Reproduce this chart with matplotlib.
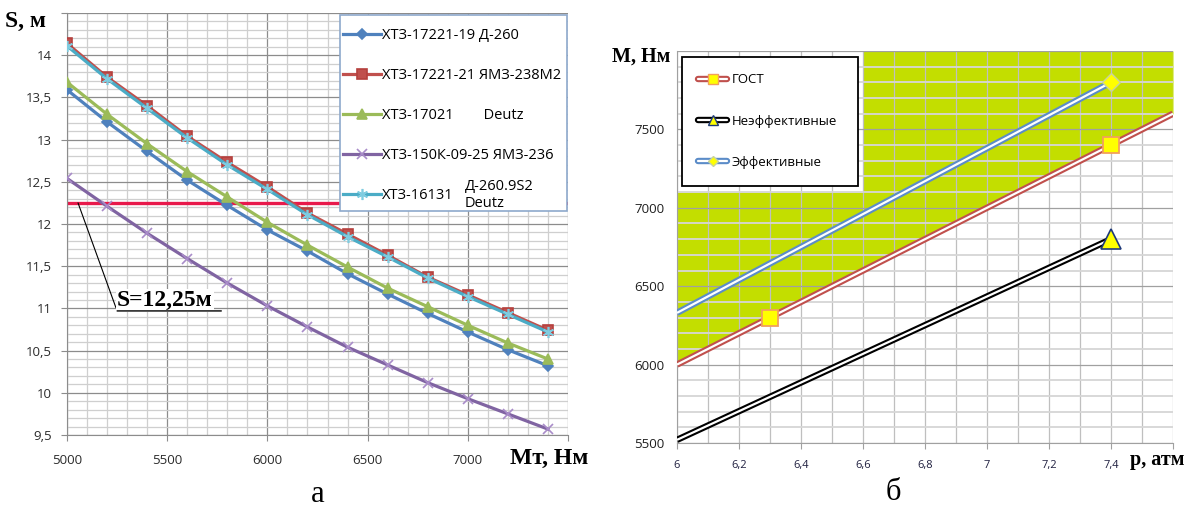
import matplotlib.pyplot as plt
import numpy as np
from matplotlib.legend_handler import HandlerTuple
from matplotlib.lines import Line2D
from matplotlib.patches import Rectangle
from matplotlib.ticker import MultipleLocator, FuncFormatter

plt.rcParams['font.family'] = ['Open Sans', 'DejaVu Sans']
SERIF = 'Liberation Serif'

# ---- chart a: braking distance vs torque ----
mt = [5000, 5200, 5400, 5600, 5800, 6000, 6200, 6400, 6600, 6800, 7000, 7200, 7400]
s_17221_19 = [13.59, 13.21, 12.86, 12.52, 12.22, 11.93, 11.68, 11.41, 11.17, 10.94, 10.72, 10.51, 10.32]
s_17221_21 = [14.14, 13.74, 13.40, 13.04, 12.73, 12.44, 12.13, 11.88, 11.63, 11.37, 11.16, 10.95, 10.74]
s_17021 = [13.68, 13.30, 12.95, 12.62, 12.32, 12.02, 11.75, 11.49, 11.24, 11.02, 10.80, 10.59, 10.40]
s_150k = [12.54, 12.21, 11.89, 11.59, 11.30, 11.03, 10.78, 10.54, 10.33, 10.12, 9.93, 9.75, 9.57]
s_16131 = [14.11, 13.72, 13.37, 13.02, 12.70, 12.41, 12.11, 11.85, 11.61, 11.36, 11.14, 10.93, 10.72]
s_limit = 12.25

labels_a = ["ХТЗ-17221-19 Д-260", "ХТЗ-17221-21 ЯМЗ-238М2", "ХТЗ-17021        Deutz",
            "ХТЗ-150К-09-25 ЯМЗ-236", "ХТЗ-16131"]

# ---- chart b: torque vs pressure ----
gost_p = [6.0, 6.3, 7.4, 7.6]
gost_m = [6000, 6300, 7400, 7600]
ineff_p = [6.0, 7.4]
ineff_m = [5520, 6800]
eff_p = [6.0, 7.4]
eff_m = [6330, 7800]
zone_p = [6.0, 6.6, 6.6, 7.6]
zone_top = [7100, 7100, 8000, 8000]


def comma(v, pos):
    return f"{v:g}".replace('.', ',')


fig = plt.figure(figsize=(11.92, 5.12), dpi=100)
W, H = 1192, 512

# ================= chart a =================
ax1 = fig.add_axes([67 / W, 1 - 435 / H, 501 / W, 422 / H])
ax1.set_xlim(5000, 7500)
ax1.set_ylim(9.5, 14.5)
ax1.xaxis.set_major_locator(MultipleLocator(500))
ax1.xaxis.set_minor_locator(MultipleLocator(100))
ax1.yaxis.set_major_locator(MultipleLocator(0.5))
ax1.yaxis.set_minor_locator(MultipleLocator(0.1))
ax1.set_axisbelow(True)
ax1.grid(which='major', color='#8C8C8C', lw=0.9)
ax1.grid(which='minor', color='#CFCFCF', lw=0.9)
for sp in ['top', 'right']:
    ax1.spines[sp].set_visible(False)
for sp in ['left', 'bottom']:
    ax1.spines[sp].set_color('#8C8C8C')
ax1.tick_params(which='major', length=4, color='#8C8C8C', labelsize=9.5,
                labelcolor='#2B2B2B')
ax1.tick_params(which='minor', length=0)
ax1.tick_params(axis='x', pad=10)
ax1.tick_params(axis='y', pad=7)
ax1.xaxis.set_major_formatter(FuncFormatter(lambda v, p: '' if v >= 7500 else f"{v:g}"))
ax1.yaxis.set_major_formatter(FuncFormatter(lambda v, p: '' if v >= 14.5 else comma(v, p)))

ax1.axhline(s_limit, color='#E8194B', lw=2.4, zorder=2)

styles = [
    (s_17221_19, '#4F81BD', 'D', 5.5, '#4F81BD'),
    (s_17221_21, '#C0504D', 's', 7, '#B5403D'),
    (s_17021, '#9BBB59', '^', 7.5, '#9BBB59'),
    (s_150k, '#8064A2', 'x', 6.5, '#A98CC9'),
    (s_16131, '#4BACC6', (6, 2, 0), 8, '#7FCCE0'),
]
handles_a = []
for (vals, col, mk, ms, mec), lab in zip(styles, labels_a):
    ln, = ax1.plot(mt, vals, color=col, lw=2.3, marker=mk, ms=ms, mfc=col,
                   mec=mec, mew=1.2, zorder=3, label=lab)
    handles_a.append(ln)

# annotation for the limit
ax1.annotate("S=12,25м", xy=(5055, s_limit), xytext=(5250, 10.97),
             fontfamily=SERIF, fontweight='bold', fontsize=17, va='bottom', ha='left',
             bbox=dict(boxstyle='square,pad=0.05', fc='white', ec='none'),
             arrowprops=dict(arrowstyle='-', lw=0.8, color='black', relpos=(0, 0),
                             shrinkA=0, shrinkB=0), zorder=6)
ax1.annotate('', xy=(5770, 10.97), xytext=(5250, 10.97),
             arrowprops=dict(arrowstyle='-', lw=1.0, color='black', shrinkA=0, shrinkB=0),
             zorder=6)

# legend box
ax1.add_patch(Rectangle((0.545, 0.5308), 0.453, 0.4645, transform=ax1.transAxes,
                        fc='white', ec='#8EA9CC', lw=1.2, zorder=4))
ax1.legend(handles=handles_a, loc='upper left', bbox_to_anchor=(0.545, 0.972),
           borderaxespad=0, borderpad=0.2, frameon=False, fontsize=10.5,
           labelspacing=1.72, handlelength=2.6, handletextpad=0.1)
fig.text(465 / W, 1 - 195 / H, "Д-260.9S2\nDeutz", fontsize=10.5, va='center',
         ha='left', linespacing=1.2, zorder=10)

fig.text(5 / W, 1 - 21 / H, "S, м", fontfamily=SERIF, fontweight='bold', fontsize=17,
         va='center', ha='left')
fig.text(510 / W, 1 - 458 / H, "Мт, Нм", fontfamily=SERIF, fontweight='bold', fontsize=17,
         va='center', ha='left')
fig.text(318 / W, 1 - 494 / H, "а", fontfamily=SERIF, fontsize=22, va='center', ha='center')

# ================= chart b =================
ax2 = fig.add_axes([677 / W, 1 - 443 / H, 496 / W, 392 / H])
ax2.set_xlim(6, 7.6)
ax2.set_ylim(5500, 8000)
ax2.xaxis.set_major_locator(MultipleLocator(0.2))
ax2.xaxis.set_minor_locator(MultipleLocator(0.1))
ax2.yaxis.set_major_locator(MultipleLocator(500))
ax2.yaxis.set_minor_locator(MultipleLocator(100))
ax2.set_axisbelow(True)
ax2.grid(axis='x', which='both', color='#BFBFBF', lw=0.9)
ax2.grid(axis='y', which='major', color='#A0A0A0', lw=0.9)
ax2.grid(axis='y', which='minor', color='#D6D6D6', lw=1.3)
for sp in ['top', 'right']:
    ax2.spines[sp].set_visible(False)
for sp in ['left', 'bottom']:
    ax2.spines[sp].set_color('#A0A0A0')
ax2.tick_params(which='minor', length=0)
ax2.tick_params(axis='x', which='major', length=4, color='#A0A0A0', labelsize=8, pad=8,
                labelcolor='#1F1F3F')
ax2.tick_params(axis='y', which='major', length=0, labelsize=9.5, pad=9,
                labelcolor='#1F1F1F')
ax2.xaxis.set_major_formatter(FuncFormatter(lambda v, p: '' if v >= 7.59 else comma(v, p)))
ax2.yaxis.set_major_formatter(FuncFormatter(lambda v, p: '' if v >= 8000 else f"{v:g}"))

zone_bottom = np.interp(zone_p, gost_p, gost_m)
ax2.fill_between(zone_p, zone_bottom, zone_top, color='#C3DE00', lw=0, zorder=0.2)


def double_line(ax, px, py, col, lw_out=4.6, lw_in=1.6):
    ax.plot(px, py, color=col, lw=lw_out, solid_capstyle='butt', zorder=3)
    ax.plot(px, py, color='white', lw=lw_in, solid_capstyle='butt', zorder=3.1)


double_line(ax2, gost_p, gost_m, '#C0504D')
double_line(ax2, ineff_p, ineff_m, 'black')
double_line(ax2, eff_p, eff_m, '#5B8CC8')

ax2.plot(gost_p[1:3], gost_m[1:3], ls='none', marker='s', ms=12, mfc='#FFFF00',
         mec='#F2A05C', mew=1.3, zorder=4)
ax2.plot(ineff_p[-1:], ineff_m[-1:], ls='none', marker='^', ms=14, mfc='#FFFF00',
         mec='#1F3A7A', mew=1.2, zorder=4)
ax2.plot(eff_p[-1:], eff_m[-1:], ls='none', marker='D', ms=9, mfc='#FFFF00',
         mec='#C8D2A0', mew=1.0, zorder=4)


def proxy(col, mk, ms, mec):
    outer = Line2D([], [], color=col, lw=4.6, solid_capstyle='round')
    inner = Line2D([], [], color='white', lw=1.6, solid_capstyle='round')
    mark = Line2D([], [], ls='none', marker=mk, ms=ms, mfc='#FFFF00', mec=mec, mew=1)
    return (outer, inner, mark)


handles_b = [proxy('#C0504D', 's', 7.5, '#F2A05C'),
             proxy('black', '^', 7, '#1F3A7A'),
             proxy('#5B8CC8', 'D', 5.5, '#C8D2A0')]
labels_b = ["ГОСТ", "Неэффективные", "Эффективные"]
leg = ax2.legend(handles_b, labels_b, handler_map={tuple: HandlerTuple(ndivide=1)},
                 loc='upper left', bbox_to_anchor=(0.01, 0.5, 0.355, 0.485), borderaxespad=0,
                 mode='expand', fontsize=9.5, labelspacing=2.15, borderpad=1.25,
                 handlelength=2.2, handletextpad=0.3, fancybox=False, framealpha=1,
                 edgecolor='black')
leg.get_frame().set_linewidth(1.3)

fig.text(612 / W, 1 - 57 / H, "М, Нм", fontfamily=SERIF, fontweight='bold', fontsize=14.5,
         va='center', ha='left')
fig.text(1130 / W, 1 - 460 / H, "p, атм", fontfamily=SERIF, fontweight='bold', fontsize=14.5,
         va='center', ha='left')
fig.text(893 / W, 1 - 492 / H, "б", fontfamily=SERIF, fontsize=22, va='center', ha='center')

fig.savefig('out.png', dpi=100)
